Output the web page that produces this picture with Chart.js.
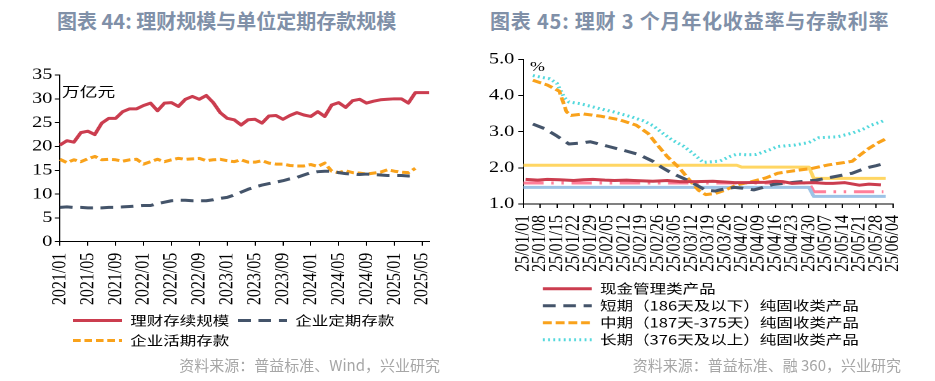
<!DOCTYPE html>
<html>
<head>
<meta charset="utf-8">
<script src="https://cdn.jsdelivr.net/npm/chart.js@4.4.1/dist/chart.umd.min.js"></script>
<style>
  html, body { margin:0; padding:0; background:#fff; width:935px; height:381px; overflow:hidden; }
  .wrap { position:absolute; top:0; width:368px; height:381px; transform:scaleX(1.27); transform-origin:0 0; }
  .title { position:absolute; top:9px; font-family:"Noto Sans CJK SC", sans-serif; font-weight:700; font-size:20px; line-height:24px; color:#8090a8; white-space:nowrap; }
  .src { position:absolute; top:356px; font-family:"Noto Sans CJK SC", sans-serif; font-size:15px; line-height:18px; color:#a6a6a6; white-space:nowrap; }
</style>
</head>
<body>
<div class="title" style="left:57px;">图表 44: 理财规模与单位定期存款规模</div>
<div class="title" style="left:490px; letter-spacing:0.8px;">图表 45: 理财 3 个月年化收益率与存款利率</div>
<div class="wrap" style="left:0px;"><canvas id="c1" width="368" height="381"></canvas></div>
<div class="wrap" style="left:467px;"><canvas id="c2" width="368" height="381"></canvas></div>
<div class="src" style="right:495px; text-align:right;">资料来源：普益标准、Wind，兴业研究</div>
<div class="src" style="right:34px; text-align:right;">资料来源：普益标准、融 360，兴业研究</div>

<script>
// ---------- Left chart data ----------
const monthLabels = ['2021/01','2021/02','2021/03','2021/04','2021/05','2021/06','2021/07','2021/08','2021/09','2021/10','2021/11','2021/12',
  '2022/01','2022/02','2022/03','2022/04','2022/05','2022/06','2022/07','2022/08','2022/09','2022/10','2022/11','2022/12',
  '2023/01','2023/02','2023/03','2023/04','2023/05','2023/06','2023/07','2023/08','2023/09','2023/10','2023/11','2023/12',
  '2024/01','2024/02','2024/03','2024/04','2024/05','2024/06','2024/07','2024/08','2024/09','2024/10','2024/11','2024/12',
  '2025/01','2025/02','2025/03','2025/04','2025/05','2025/06'];
const wmScale = [20.3,21.2,20.9,22.9,23.2,22.5,24.9,25.9,25.9,27.3,27.9,27.9,
  28.6,29.1,27.5,29.1,29.2,28.4,29.9,30.5,29.9,30.7,29.2,27.1,
  25.9,25.6,24.5,25.6,25.7,24.9,26.4,26.5,25.7,26.5,27.1,26.6,
  26.3,27.3,26.3,28.7,29.2,28.2,29.6,29.9,29.1,29.5,29.8,29.9,
  30.0,30.0,29.1,31.3,31.3,31.3];
const corpTimeDep = [7.2,7.3,7.2,7.2,7.1,7.1,7.1,7.2,7.2,7.3,7.4,7.5,
  7.6,7.6,8.0,8.3,8.6,8.7,8.7,8.6,8.6,8.6,8.8,9.1,
  9.3,9.8,10.4,11.0,11.5,11.9,12.2,12.5,12.8,13.2,13.5,14.0,
  14.5,14.7,14.8,14.8,14.5,14.3,14.2,14.1,14.2,14.1,14.0,13.9,
  13.9,13.9,13.8,13.9];
const corpDemandDep = [17.3,16.6,17.2,16.8,17.4,17.9,17.2,17.3,17.2,16.9,17.2,17.3,
  16.3,16.8,17.3,16.8,17.2,17.5,17.3,17.4,17.5,17.0,17.2,17.3,
  17.0,16.8,17.2,16.7,16.7,17.0,16.5,16.3,16.3,16.0,15.9,15.9,
  16.2,15.8,16.5,14.8,14.5,14.9,14.5,14.4,14.2,14.4,14.6,15.1,
  14.8,14.6,14.5,15.4];
const leftYTicks = [0,5,10,15,20,25,30,35];

// ---------- Right chart data (x = days since 2025/01/01) ----------
const weekTickLabels = ['25/01/01','25/01/08','25/01/15','25/01/22','25/01/29','25/02/05','25/02/12','25/02/19','25/02/26',
  '25/03/05','25/03/12','25/03/19','25/03/26','25/04/02','25/04/09','25/04/16','25/04/23','25/04/30',
  '25/05/07','25/05/14','25/05/21','25/05/28','25/06/04'];
const cashDays = [1,6,10,15,21,25,29,34,38,43,46,50,54,60,65,72,79,84,88,93,101,105,108,112,115,121,126,129,134,140,144,149];
const cashVals = [1.68,1.66,1.68,1.67,1.65,1.67,1.68,1.66,1.65,1.66,1.65,1.64,1.63,1.65,1.62,1.62,1.63,1.61,1.59,1.59,1.60,1.63,1.62,1.57,1.58,1.59,1.57,1.57,1.59,1.52,1.55,1.53];
const shortDays = [4,9,14,19,23,28,35,42,48,54,58,62,67,72,76,80,84,88,91,96,100,104,113,122,130,137,143,147,151];
const shortVals = [3.21,3.08,2.88,2.66,2.68,2.72,2.60,2.48,2.37,2.18,2.00,1.85,1.70,1.53,1.38,1.36,1.42,1.46,1.44,1.39,1.46,1.54,1.60,1.66,1.76,1.85,2.00,2.06,2.13];
const midDays = [4,10,15,18,20,25,32,40,47,52,55,60,65,69,73,76,80,84,89,94,101,106,114,120,127,132,137,140,144,148,151];
const midVals = [4.42,4.29,4.12,3.55,3.45,3.49,3.43,3.33,3.18,2.95,2.70,2.31,2.00,1.68,1.38,1.26,1.29,1.38,1.53,1.60,1.72,1.85,1.93,1.98,2.08,2.13,2.18,2.34,2.54,2.70,2.80];
const longDays = [4,11,14,17,19,24,31,38,45,50,54,58,62,67,71,75,79,82,86,89,93,97,102,106,113,119,123,131,137,141,145,151];
const longVals = [4.55,4.46,4.34,3.95,3.82,3.77,3.65,3.54,3.41,3.30,3.17,2.96,2.77,2.59,2.38,2.15,2.17,2.19,2.31,2.38,2.36,2.37,2.48,2.59,2.63,2.70,2.83,2.86,2.96,3.05,3.18,3.32];
const depADays = [0,89,91,119,121,151];
const depAVals = [2.07,2.07,2.02,2.02,1.71,1.71];
const depBDays = [0,119,121,151];
const depBVals = [1.46,1.46,1.21,1.21];
const depCDays = [0,119,121,150];
const depCVals = [1.58,1.58,1.34,1.34];

const toXY = (xs, ys) => xs.map((x, i) => ({x: x, y: ys[i]}));

const AXIS_FONT = {family: '"Liberation Serif", "Times New Roman", serif', size: 16};
const LEG_FONT = {family: '"Noto Sans CJK SC", sans-serif', size: 13};

const legendShift = {
  id: 'legendShift',
  beforeDraw(chart, args, opts) {
    if (chart.legend && opts && opts.start != null) {
      chart.legend.left = opts.start - chart.legend.options.labels.padding;
    }
  }
};
const unitText = {
  id: 'unitText',
  afterDraw(chart, args, opts) {
    const ctx = chart.ctx;
    ctx.save();
    ctx.font = opts.font;
    ctx.fillStyle = '#000';
    ctx.textAlign = 'left';
    ctx.textBaseline = 'middle';
    ctx.fillText(opts.text, opts.x, opts.y);
    ctx.restore();
  }
};

function lineLegendLabels(chart) {
  const items = Chart.defaults.plugins.legend.labels.generateLabels(chart);
  items.forEach((it) => {
    const ds = chart.data.datasets[it.datasetIndex];
    it.lineDash = ds.borderDash || [];
    it.lineWidth = ds.borderWidth;
    it.strokeStyle = ds.borderColor;
    it.fillStyle = ds.borderColor;
    it.lineCap = 'butt';
    it.pointStyle = 'line';
  });
  return items;
}

function lineDs(label, data, color, dash, extra) {
  return Object.assign({
    label: label, data: data, borderColor: color, backgroundColor: color,
    borderWidth: 3, borderDash: dash || [], pointRadius: 0, pointStyle: 'line',
    tension: 0, borderJoinStyle: 'round', fill: false, spanGaps: true
  }, extra || {});
}

// ---------- Left chart ----------
new Chart(document.getElementById('c1'), {
  type: 'line',
  data: {
    labels: monthLabels,
    datasets: [
      lineDs('理财存续规模', wmScale, '#CB3D4F', []),
      lineDs('企业定期存款', corpTimeDep, '#44546A', [10, 6]),
      lineDs('企业活期存款', corpDemandDep, '#F9A21B', [6, 3])
    ]
  },
  options: {
    responsive: false, animation: false, devicePixelRatio: 2, events: [],
    layout: {padding: {top: 75, bottom: 24, left: 0, right: 30}},
    scales: {
      x: {
        type: 'category',
        grid: {display: true, drawOnChartArea: false, drawTicks: true, tickLength: 4,
               tickColor: (c) => (c.index % 4 === 0 ? '#000' : 'rgba(0,0,0,0)'), color: '#000'},
        border: {display: true, color: '#000', width: 1},
        ticks: {autoSkip: false, minRotation: 90, maxRotation: 90, padding: 7, font: AXIS_FONT, color: '#000',
                callback: (v, i) => (i % 4 === 0 ? monthLabels[i] : '')},
        afterFit: (s) => { s.height = 65.3; }
      },
      y: {
        min: 0, max: 35,
        afterBuildTicks: (s) => { s.ticks = leftYTicks.map(v => ({value: v})); },
        grid: {display: true, drawOnChartArea: false, drawTicks: true, tickLength: 4, color: '#000'},
        border: {display: true, color: '#000', width: 1},
        ticks: {padding: 2, font: AXIS_FONT, color: '#000'},
        afterFit: (s) => { s.width = 47.2; }
      }
    },
    plugins: {
      legend: {
        display: true, position: 'bottom', align: 'start', fullSize: false,
        labels: {usePointStyle: true, pointStyle: 'line', pointStyleWidth: 38.5, boxHeight: 13,
                 font: LEG_FONT, color: '#000', padding: 7, generateLabels: lineLegendLabels}
      },
      tooltip: {enabled: false},
      legendShift: {start: 57.5},
      unitText: {text: '万亿元', x: 48.8, y: 91.5, font: '14px "Noto Sans CJK SC", sans-serif'}
    }
  },
  plugins: [legendShift, unitText]
});

// ---------- Right chart ----------
new Chart(document.getElementById('c2'), {
  type: 'line',
  data: {
    datasets: [
      lineDs('现金管理类产品', toXY(cashDays, cashVals), '#CB3D4F', []),
      lineDs('短期（186天及以下）纯固收类产品', toXY(shortDays, shortVals), '#44546A', [10, 6]),
      lineDs('中期（187天-375天）纯固收类产品', toXY(midDays, midVals), '#F9A21B', [7, 3]),
      lineDs('长期（376天及以上）纯固收类产品', toXY(longDays, longVals), '#52D8DC', [1.5, 2.6]),
      lineDs('存款利率A', toXY(depADays, depAVals), '#FFD663', []),
      lineDs('存款利率B', toXY(depBDays, depBVals), '#9DC3E6', []),
      lineDs('存款利率C', toXY(depCDays, depCVals), '#FF7F9A', [16, 6, 2, 6, 2, 6])
    ]
  },
  options: {
    responsive: false, animation: false, devicePixelRatio: 2, events: [],
    layout: {padding: {top: 59.3, bottom: 24.8, left: 0, right: 32.6}},
    scales: {
      x: {
        type: 'linear', min: 0, max: 154,
        afterBuildTicks: (s) => { s.ticks = weekTickLabels.map((t, i) => ({value: i * 7})); },
        grid: {display: true, drawOnChartArea: false, drawTicks: true, tickLength: 4, color: '#000'},
        border: {display: true, color: '#000', width: 1},
        ticks: {autoSkip: false, minRotation: 90, maxRotation: 90, padding: 7, font: AXIS_FONT, color: '#000',
                callback: (v, i) => weekTickLabels[i]},
        afterFit: (s) => { s.height = 74.2; }
      },
      y: {
        min: 1, max: 5,
        afterBuildTicks: (s) => { s.ticks = [1,2,3,4,5].map(v => ({value: v})); },
        grid: {display: true, drawOnChartArea: false, drawTicks: true, tickLength: 4, color: '#000'},
        border: {display: true, color: '#000', width: 1},
        ticks: {padding: 3, font: AXIS_FONT, color: '#000', callback: (v) => Number(v).toFixed(1)},
        afterFit: (s) => { s.width = 44.3; }
      }
    },
    plugins: {
      legend: {
        display: true, position: 'bottom', align: 'start', fullSize: false,
        labels: {usePointStyle: true, pointStyle: 'line', pointStyleWidth: 38.5, boxHeight: 13,
                 font: LEG_FONT, color: '#000', padding: 4,
                 generateLabels: lineLegendLabels,
                 filter: (item) => item.datasetIndex < 4}
      },
      tooltip: {enabled: false},
      legendShift: {start: 59.8},
      unitText: {text: '%', x: 49.6, y: 67.5, font: '14px "Liberation Serif", serif'}
    }
  },
  plugins: [legendShift, unitText]
});
</script>
</body>
</html>
